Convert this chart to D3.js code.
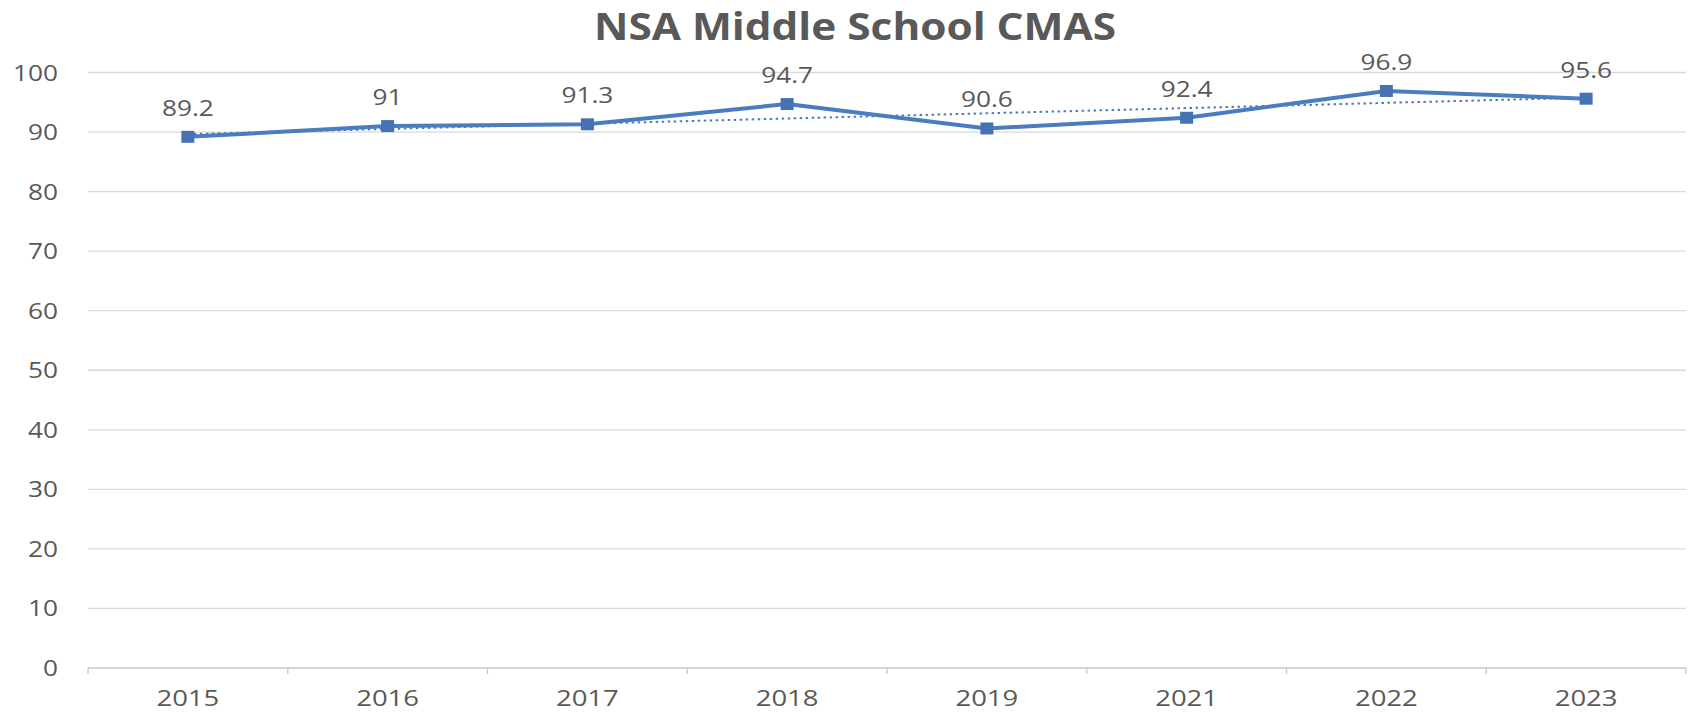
<!DOCTYPE html>
<html>
<head>
<meta charset="utf-8">
<script src="https://cdn.jsdelivr.net/npm/d3@7/dist/d3.min.js"></script>
<style>
  html, body { margin: 0; padding: 0; background: #ffffff; }
  svg { display: block; }
</style>
</head>
<body>
<svg id="chart" width="1694" height="712"></svg>
<script>
const title = "NSA Middle School CMAS";
const years = ["2015", "2016", "2017", "2018", "2019", "2021", "2022", "2023"];
const scores = [89.2, 91, 91.3, 94.7, 90.6, 92.4, 96.9, 95.6];
const yTicks = [0, 10, 20, 30, 40, 50, 60, 70, 80, 90, 100];

const W = 1694, H = 712;
const plot = { left: 88, right: 1686, top: 72.5, bottom: 668 };
const stretch = 1.25;
const textColor = "#595959";
const blue = "#4a7cc0";

const svg = d3.select("#chart");
svg.append("rect").attr("width", W).attr("height", H).attr("fill", "#fff");

const x = d3.scaleBand().domain(years).range([plot.left, plot.right]);
const y = d3.scaleLinear().domain([0, 100]).range([plot.bottom, plot.top]);
const cx = d => x(d) + x.bandwidth() / 2;

// gridlines
svg.append("g").selectAll("line").data(yTicks).join("line")
  .attr("x1", plot.left).attr("x2", plot.right)
  .attr("y1", d => y(d)).attr("y2", d => y(d))
  .attr("stroke", d => d === 0 ? "#c8c8c8" : "#d9d9d9")
  .attr("stroke-width", 1.3);

// category ticks (between categories)
const bounds = d3.range(years.length + 1).map(i => plot.left + i * x.step());
svg.append("g").selectAll("line").data(bounds).join("line")
  .attr("x1", d => d).attr("x2", d => d)
  .attr("y1", plot.bottom).attr("y2", plot.bottom + 6)
  .attr("stroke", "#c8c8c8").attr("stroke-width", 1.3);

// y labels
svg.append("g").selectAll("text").data(yTicks).join("text")
  .attr("transform", d => `translate(58,${y(d) + 8}) scale(${stretch},1)`)
  .attr("text-anchor", "end")
  .attr("font-family", "Open Sans, sans-serif")
  .attr("font-size", 21)
  .attr("fill", textColor)
  .text(d => d);

// x labels
svg.append("g").selectAll("text").data(years).join("text")
  .attr("transform", d => `translate(${cx(d)},706) scale(${stretch},1)`)
  .attr("text-anchor", "middle")
  .attr("font-family", "Open Sans, sans-serif")
  .attr("font-size", 22)
  .attr("fill", textColor)
  .text(d => d);

// linear trendline (least squares over category index)
const idx = scores.map((_, i) => i + 1);
const mx = d3.mean(idx), my = d3.mean(scores);
const slope = d3.sum(idx.map((xi, i) => (xi - mx) * (scores[i] - my))) / d3.sum(idx.map(xi => (xi - mx) ** 2));
const icpt = my - slope * mx;
const trend = years.map((yr, i) => ({ yr, v: icpt + slope * (i + 1) }));
svg.append("path")
  .datum([trend[0], trend[trend.length - 1]])
  .attr("d", d3.line().x(d => cx(d.yr)).y(d => y(d.v)))
  .attr("fill", "none")
  .attr("stroke", blue)
  .attr("stroke-width", 2)
  .attr("stroke-dasharray", "2.5,3.5");

// main line
const pts = years.map((yr, i) => ({ yr, v: scores[i] }));
svg.append("path")
  .datum(pts)
  .attr("d", d3.line().x(d => cx(d.yr)).y(d => y(d.v)))
  .attr("fill", "none")
  .attr("stroke", blue)
  .attr("stroke-width", 4)
  .attr("stroke-linejoin", "round");

// markers
svg.append("g").selectAll("rect").data(pts).join("rect")
  .attr("x", d => cx(d.yr) - 6.5).attr("y", d => y(d.v) - 6)
  .attr("width", 13).attr("height", 12)
  .attr("fill", "#4672b4");

// data labels
svg.append("g").selectAll("text").data(pts).join("text")
  .attr("transform", d => `translate(${cx(d.yr)},${y(d.v) - 21}) scale(${stretch},1)`)
  .attr("text-anchor", "middle")
  .attr("font-family", "Open Sans, sans-serif")
  .attr("font-size", 21)
  .attr("fill", textColor)
  .text(d => d.v);

// title
svg.append("text")
  .attr("x", 855).attr("y", 39.5)
  .attr("text-anchor", "middle")
  .attr("font-family", "Open Sans, sans-serif")
  .attr("font-weight", "bold")
  .attr("font-size", 38)
  .attr("fill", textColor)
  .attr("textLength", 522)
  .attr("lengthAdjust", "spacingAndGlyphs")
  .text(title);
</script>
</body>
</html>
